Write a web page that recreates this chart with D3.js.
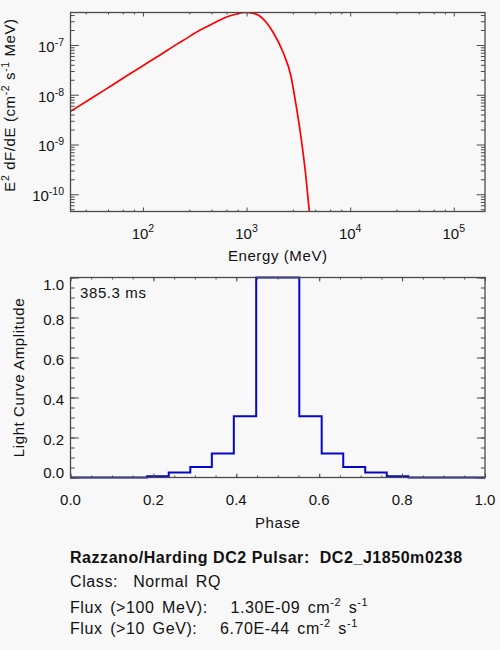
<!DOCTYPE html>
<html>
<head>
<meta charset="utf-8">
<script src="https://cdn.jsdelivr.net/npm/d3@7"></script>
<style>
  body { margin: 0; background: #f8f8f8; }
  svg text { font-family: "Liberation Sans", Arial, Helvetica, sans-serif; fill: #111; }
</style>
</head>
<body>
<svg id="chart" width="500" height="650"></svg>
<script>
// spectrum
const energy = [20, 33, 50, 70, 100, 150, 200, 263, 350, 442, 540, 640, 800, 955, 1200, 1435, 1790, 2240, 2690, 3000, 3360, 3690, 4030, 4150]
const e2dfde = [4.63e-9, 8.9e-9, 1.54e-8, 2.4e-8, 3.83e-8, 6.5e-8, 9.6e-8, 1.36e-7, 1.95e-7, 2.5e-7, 3.1e-7, 3.65e-7,
                4.2e-7, 4.5e-7, 4.27e-7, 3.4e-7, 1.85e-7, 7.3e-8, 2.3e-8, 6.3e-9, 1.36e-9, 2.9e-10, 4.6e-11, 2.5e-11]

// light curve histogram: bin edges and amplitude per bin
const phaseEdges = [0, 0.185, 0.237, 0.289, 0.341, 0.394, 0.448, 0.552, 0.606, 0.658, 0.711, 0.763, 0.815, 1.0]
const amplitude = [0, 0.006, 0.025, 0.053, 0.12, 0.306, 1.0, 0.306, 0.12, 0.053, 0.025, 0.006, 0]

const energyTicks = [100, 1000, 1e4, 1e5]
const fluxTicks = [1e-10, 1e-9, 1e-8, 1e-7]
const phaseTicks = [0, 0.2, 0.4, 0.6, 0.8, 1.0]
const ampTicks = [0, 0.2, 0.4, 0.6, 0.8, 1.0]

const period = "385.3 ms"
const infoTitle = "Razzano/Harding DC2 Pulsar:  DC2_J1850m0238"
const infoClass = "Class:  Normal RQ"
const fluxLines = [
  ["Flux (>100 MeV):   1.30E-09 cm", " s"],
  ["Flux (>10 GeV):   6.70E-44 cm", " s"]
]

const svg = d3.select('#chart')
svg.append('rect').attr('width', 500).attr('height', 650).attr('fill', '#f8f8f8')

const L = 70.5, R = 485
const top1 = 12.5, bot1 = 211.5
const top2 = 277.5, bot2 = 477.5
const frameColor = '#4a4a4a'

const x1 = d3.scaleLog().domain([20, 2e5]).range([L, R])
const y1 = d3.scaleLog().domain([4.5e-11, 4.5e-7]).range([bot1, top1])
const x2 = d3.scaleLinear().domain([0, 1]).range([L, R])
const y2 = d3.scaleLinear().domain([0, 1]).range([bot2, top2])

// minor ticks
const decades = [10, 100, 1000, 1e4, 1e5]
const energyMinor = decades.flatMap(d => [2.8, 4.6, 6.4, 8.2].map(m => m * d))
  .filter(v => v > 20 && v < 2e5)
const fluxMinor = [1e-11, 1e-10, 1e-9, 1e-8, 1e-7].flatMap(d => [2, 3, 4, 5, 6, 7, 8, 9].map(m => m * d))
  .filter(v => v > 4.5e-11 && v < 4.5e-7)
const phaseMinor = d3.range(0, 21).map(i => i * 0.05)

function ticks(g, axisFn, scale, values, len) {
  g.call(axisFn(scale).tickValues(values).tickSize(-len).tickFormat(''))
  g.select('.domain').remove()
  g.selectAll('line').attr('stroke', frameColor).attr('stroke-width', 1)
}

function frame(xs, ys, top, bot, xMaj, xMin, yMaj, yMin, xLen, yLen) {
  const g = svg.append('g')
  ticks(g.append('g').attr('transform', `translate(0,${bot})`), d3.axisBottom, xs, xMaj, xLen)
  ticks(g.append('g').attr('transform', `translate(0,${bot})`), d3.axisBottom, xs, xMin, xLen / 2)
  ticks(g.append('g').attr('transform', `translate(0,${top})`), d3.axisTop, xs, xMaj, xLen)
  ticks(g.append('g').attr('transform', `translate(0,${top})`), d3.axisTop, xs, xMin, xLen / 2)
  ticks(g.append('g').attr('transform', `translate(${L},0)`), d3.axisLeft, ys, yMaj, yLen)
  ticks(g.append('g').attr('transform', `translate(${L},0)`), d3.axisLeft, ys, yMin, yLen / 2)
  ticks(g.append('g').attr('transform', `translate(${R},0)`), d3.axisRight, ys, yMaj, yLen)
  ticks(g.append('g').attr('transform', `translate(${R},0)`), d3.axisRight, ys, yMin, yLen / 2)
  g.append('rect')
    .attr('x', L).attr('y', top).attr('width', R - L).attr('height', bot - top)
    .attr('fill', 'none').attr('stroke', frameColor).attr('stroke-width', 1.3)
}

// ---------- top panel: spectrum ----------
svg.append('clipPath').attr('id', 'clip1')
  .append('rect').attr('x', L).attr('y', top1).attr('width', R - L).attr('height', bot1 - top1)

const specLine = d3.line()
  .x((d, i) => x1(energy[i]))
  .y(d => y1(d))
  .curve(d3.curveMonotoneX)

svg.append('path')
  .attr('d', specLine(e2dfde))
  .attr('clip-path', 'url(#clip1)')
  .attr('fill', 'none')
  .attr('stroke', '#ff0000')
  .attr('stroke-width', 1.7)

frame(x1, y1, top1, bot1, energyTicks, energyMinor, fluxTicks, fluxMinor, 4, 8.3)

// power-of-ten labels
energyTicks.forEach(v => {
  const t = svg.append('text').attr('x', x1(v)).attr('y', 239)
    .attr('text-anchor', 'middle').attr('font-size', 15)
  t.append('tspan').text('10')
  t.append('tspan').attr('font-size', 10.5).attr('dy', -7.5).text(Math.round(Math.log10(v)))
})
fluxTicks.forEach(v => {
  const t = svg.append('text').attr('x', 64).attr('y', y1(v) + 6.8)
    .attr('text-anchor', 'end').attr('font-size', 15)
  t.append('tspan').text('10')
  t.append('tspan').attr('font-size', 10.5).attr('dy', -6).text(Math.round(Math.log10(v)))
})

svg.append('text')
  .attr('x', (L + R) / 2).attr('y', 261)
  .attr('text-anchor', 'middle').attr('font-size', 15).attr('letter-spacing', 0.6)
  .text('Energy (MeV)')

const yt1 = svg.append('text')
  .attr('transform', 'translate(14.5,105) rotate(-90)')
  .attr('text-anchor', 'middle').attr('font-size', 15).attr('letter-spacing', 0.6)
yt1.append('tspan').text('E')
yt1.append('tspan').attr('font-size', 10.5).attr('dy', -6).text('2')
yt1.append('tspan').attr('dy', 6).text(' dF/dE (cm')
yt1.append('tspan').attr('font-size', 10.5).attr('dy', -6).text('-2')
yt1.append('tspan').attr('dy', 6).text(' s')
yt1.append('tspan').attr('font-size', 10.5).attr('dy', -6).text('-1')
yt1.append('tspan').attr('dy', 6).text(' MeV)')

// ---------- bottom panel: light curve ----------
const steps = phaseEdges.map((e, i) => [e, i < amplitude.length ? amplitude[i] : amplitude[amplitude.length - 1]])
const stepLine = d3.line()
  .x(d => x2(d[0]))
  .y(d => y2(d[1]))
  .curve(d3.curveStepAfter)

svg.append('path')
  .attr('d', stepLine(steps))
  .attr('fill', 'none')
  .attr('stroke', '#0606c8')
  .attr('stroke-width', 2)

frame(x2, y2, top2, bot2, phaseTicks, phaseMinor, ampTicks, phaseMinor, 4, 8.3)

phaseTicks.forEach(v => {
  svg.append('text').attr('x', x2(v)).attr('y', 505)
    .attr('text-anchor', 'middle').attr('font-size', 15)
    .text(d3.format('.1f')(v))
})
ampTicks.forEach(v => {
  const base = Math.max(top2 + 12.7, Math.min(bot2, y2(v) + 7.5))
  svg.append('text').attr('x', 64).attr('y', base)
    .attr('text-anchor', 'end').attr('font-size', 15)
    .text(d3.format('.1f')(v))
})

svg.append('text')
  .attr('x', (L + R) / 2).attr('y', 528)
  .attr('text-anchor', 'middle').attr('font-size', 15).attr('letter-spacing', 0.6)
  .text('Phase')

svg.append('text')
  .attr('transform', `translate(23.5,${(top2 + bot2) / 2}) rotate(-90)`)
  .attr('text-anchor', 'middle').attr('font-size', 15).attr('letter-spacing', 0.6)
  .text('Light Curve Amplitude')

svg.append('text')
  .attr('x', 80).attr('y', 298)
  .attr('font-size', 15).attr('letter-spacing', 0.6)
  .text(period)

// ---------- info block ----------
svg.append('text')
  .attr('x', 70).attr('y', 563)
  .attr('font-size', 16).attr('font-weight', 'bold').attr('letter-spacing', 0.55)
  .style('white-space', 'pre')
  .text(infoTitle)

svg.append('text')
  .attr('x', 70).attr('y', 586.5)
  .attr('font-size', 16).attr('letter-spacing', 0.6).attr('word-spacing', 2.5)
  .style('white-space', 'pre')
  .text(infoClass)

fluxLines.forEach((parts, i) => {
  const t = svg.append('text')
    .attr('x', 70).attr('y', 612.5 + i * 21.5)
    .attr('font-size', 16).attr('letter-spacing', 0.6).attr('word-spacing', 2.5)
    .style('white-space', 'pre')
  t.append('tspan').text(parts[0])
  t.append('tspan').attr('font-size', 11).attr('dy', -7).text('-2')
  t.append('tspan').attr('dy', 7).text(parts[1])
  t.append('tspan').attr('font-size', 11).attr('dy', -7).text('-1')
})
</script>
</body>
</html>
